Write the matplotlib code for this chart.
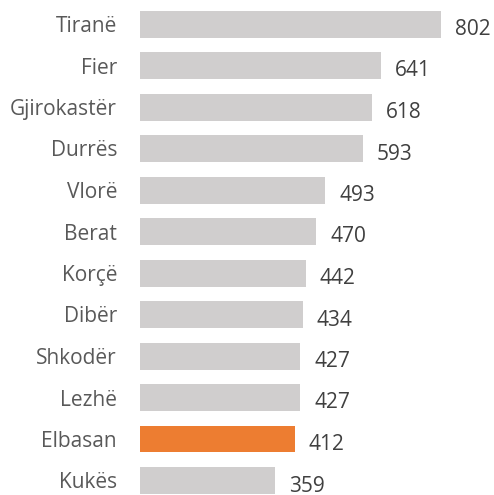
import matplotlib
matplotlib.use("Agg")
import matplotlib.pyplot as plt

categories = ["Tiranë", "Fier", "Gjirokastër", "Durrës", "Vlorë", "Berat",
              "Korçë", "Dibër", "Shkodër", "Lezhë", "Elbasan", "Kukës"]
values = [802, 641, 618, 593, 493, 470, 442, 434, 427, 427, 412, 359]
highlight = "Elbasan"

GRAY = "#D0CECE"
ORANGE = "#ED7D31"

plt.rcParams['font.family'] = ['Open Sans', 'DejaVu Sans']

fig = plt.figure(figsize=(4.94, 4.95), dpi=100)
W, H = 494, 495
ax = fig.add_axes([140 / W, 0, (W - 140) / W, 1])

pitch = 41.5
y = list(range(len(categories)))
colors = [ORANGE if c == highlight else GRAY for c in categories]
ax.barh(y, values, height=27 / pitch, color=colors)

ax.set_xlim(0, (W - 140) / 0.3753)
top_center = 24.0
ax.set_ylim(len(categories) - 1 + (H - (top_center + pitch * (len(categories) - 1))) / pitch,
            -top_center / pitch)

for yi, v, c in zip(y, values, categories):
    ax.annotate(str(v), xy=(v, yi), xytext=(14, -3), textcoords="offset pixels",
                ha="left", va="center_baseline", fontsize=15, color="#404040")
    ax.annotate(c, xy=(0, yi), xytext=(-23, 0), textcoords="offset pixels",
                ha="right", va="center_baseline", fontsize=15, color="#595959",
                annotation_clip=False)

ax.axis("off")
fig.savefig("out.png", dpi=100)
